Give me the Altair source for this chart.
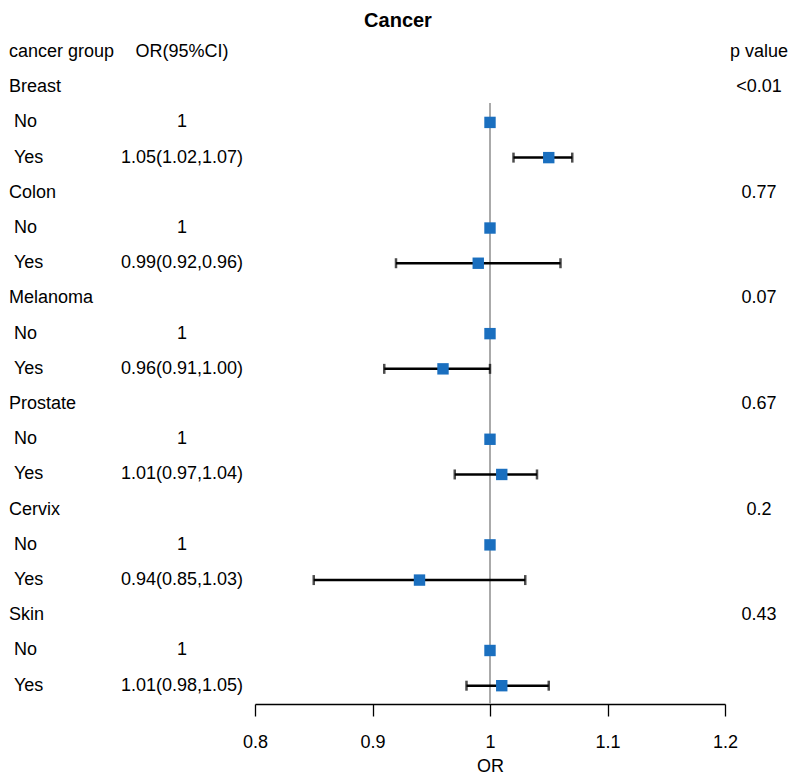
import altair as alt
import pandas as pd

groups = ["Breast", "Colon", "Melanoma", "Prostate", "Cervix", "Skin"]
or_yes = [1.05, 0.99, 0.96, 1.01, 0.94, 1.01]
ci_lo = [1.02, 0.92, 0.91, 0.97, 0.85, 0.98]
ci_hi = [1.07, 1.06, 1.00, 1.04, 1.03, 1.05]
or_text_yes = ["1.05(1.02,1.07)", "0.99(0.92,0.96)", "0.96(0.91,1.00)",
               "1.01(0.97,1.04)", "0.94(0.85,1.03)", "1.01(0.98,1.05)"]
p_values = ["<0.01", "0.77", "0.07", "0.67", "0.2", "0.43"]
x_ticks = [0.8, 0.9, 1.0, 1.1, 1.2]

FONT = "Liberation Sans"
BLUE = "#1A6FBF"

# build tables
head_rows, sub_rows = [], []
for i, g in enumerate(groups):
    r = 1 + 3 * i
    head_rows.append({"row": r, "label": g, "p": p_values[i]})
    sub_rows.append({"row": r + 1, "label": "No", "ortext": "1", "or": 1.0,
                     "lo": None, "hi": None, "kind": "No"})
    sub_rows.append({"row": r + 2, "label": "Yes", "ortext": or_text_yes[i], "or": or_yes[i],
                     "lo": ci_lo[i], "hi": ci_hi[i], "kind": "Yes"})
heads = pd.DataFrame(head_rows)
subs = pd.DataFrame(sub_rows)
yes = subs[subs["kind"] == "Yes"]
header = pd.DataFrame({"row": [0], "c1": ["cancer group"], "c2": ["OR(95%CI)"], "c3": ["p value"]})

yscale = alt.Scale(domain=[0, 18.52], reverse=True, nice=False, zero=False)
Y = alt.Y("row:Q", scale=yscale, axis=None)
xscale = alt.Scale(domain=[0.8, 1.2], nice=False, zero=False)
xaxis = alt.Axis(values=x_ticks, format="~g", title="OR", grid=False, labelFlush=False)

def txt(df, field, xpix, align="left", dx=0):
    return alt.Chart(df).mark_text(align=align, baseline="middle", font=FONT,
                                   fontSize=18, color="black", dx=dx).encode(
        x=alt.value(xpix), y=Y, text=f"{field}:N")

LEFT = -246
ORC = -73
PC = 504

ref = alt.Chart(header).mark_rule(color="#aaaaaa", strokeWidth=2).encode(
    x=alt.datum(1.0, scale=xscale, axis=xaxis), y=alt.datum(1.45, scale=yscale, axis=None),
    y2=alt.datum(18.52))

bars = alt.Chart(yes).mark_rule(color="black", strokeWidth=2.5).encode(
    x=alt.X("lo:Q", scale=xscale, axis=xaxis), x2="hi:Q", y=Y)
cap_lo = alt.Chart(yes).mark_tick(color="black", thickness=2.5, size=10, orient="vertical").encode(
    x=alt.X("lo:Q", scale=xscale, axis=xaxis), y=Y)
cap_hi = alt.Chart(yes).mark_tick(color="black", thickness=2.5, size=10, orient="vertical").encode(
    x=alt.X("hi:Q", scale=xscale, axis=xaxis), y=Y)
pts = alt.Chart(subs).mark_square(color=BLUE, size=130, opacity=1).encode(
    x=alt.X("or:Q", scale=xscale, axis=xaxis), y=Y)

layers = [
    ref, bars, cap_lo, cap_hi, pts,
    txt(header, "c1", LEFT), txt(header, "c2", ORC, "center"), txt(header, "c3", PC, "center"),
    txt(heads, "label", LEFT), txt(heads, "p", PC, "center"),
    txt(subs, "label", LEFT, dx=5), txt(subs, "ortext", ORC, "center"),
]

chart = alt.layer(*layers).properties(
    width=470, height=652,
    title=alt.TitleParams("Cancer", fontSize=20, font=FONT, fontWeight="bold",
                          anchor="middle", dx=-92, offset=12, color="black"),
    autosize=alt.AutoSizeParams(type="none"),
    padding={"left": 247, "top": 44, "right": 64, "bottom": 70},
).configure_view(stroke=None).configure_axis(
    domainColor="black", domainWidth=1.3, tickColor="black", tickSize=12, tickWidth=1.3,
    labelFontSize=18, labelFont=FONT, labelColor="black", labelPadding=17,
    titleFontSize=18, titleFont=FONT, titleFontWeight="normal", titleColor="black",
    titlePadding=6,
)

chart.save("out.html", embed_options={"renderer": "svg", "actions": False})
